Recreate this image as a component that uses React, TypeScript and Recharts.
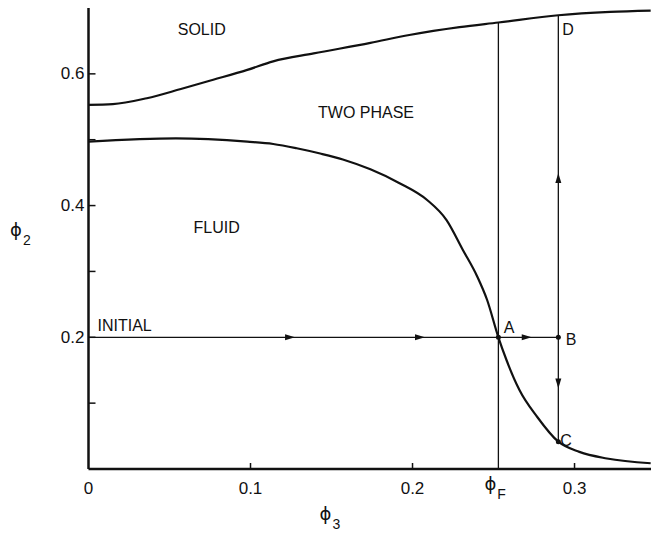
import React from 'react';
import {
    ComposedChart,
    Line,
    Scatter,
    XAxis,
    YAxis,
    ReferenceLine
} from 'recharts';

// phase boundary: solid / two phase
const SOLID_PHI3 = [0, 0.015, 0.036, 0.057, 0.077, 0.098, 0.114, 0.139, 0.174, 0.198, 0.229, 0.253, 0.29, 0.322, 0.347];
const SOLID_PHI2 = [0.553, 0.554, 0.563, 0.577, 0.591, 0.606, 0.619, 0.631, 0.647, 0.659, 0.671, 0.678, 0.689, 0.694, 0.696];

// phase boundary: fluid / two phase
const FLUID_PHI3 = [0, 0.054, 0.098, 0.114, 0.1285, 0.143, 0.157, 0.174, 0.192, 0.209, 0.221, 0.231, 0.24, 0.246, 0.253, 0.258, 0.266, 0.277, 0.29, 0.303, 0.32, 0.347];
const FLUID_PHI2 = [0.497, 0.502, 0.497, 0.4935, 0.487, 0.479, 0.47, 0.455, 0.434, 0.4085, 0.378, 0.333, 0.292, 0.257, 0.2, 0.1655, 0.12, 0.079, 0.0415, 0.026, 0.016, 0.0087];

// path of the process
const PHI_F = 0.253;
const PHI_B = 0.29;
const INITIAL_PHI2 = 0.2;
const PHI2_C = 0.0415;
const PHI2_D = 0.689;
const PHI2_TOP_F = 0.678;

const POINT_NAMES = ['A', 'B', 'C'];
const POINT_PHI3 = [PHI_F, PHI_B, PHI_B];
const POINT_PHI2 = [INITIAL_PHI2, INITIAL_PHI2, PHI2_C];

const ARROW_DIRS = ['right', 'right', 'right', 'up', 'down'];
const ARROW_PHI3 = [0.1244, 0.2046, 0.2705, PHI_B, PHI_B];
const ARROW_PHI2 = [0.2, 0.2, 0.2, 0.442, 0.13];

// text in the plot
const NOTE_TEXT = ['SOLID', 'TWO PHASE', 'FLUID', 'INITIAL', 'A', 'B', 'C', 'D'];
const NOTE_PHI3 = [0.0699, 0.1713, 0.0791, 0.0223, 0.2596, 0.2978, 0.2948, 0.296];
const NOTE_PHI2 = [0.668, 0.5406, 0.367, 0.2176, 0.2156, 0.196, 0.044, 0.6667];

// axes
const X_TICKS = [0, 0.1, 0.2, PHI_F, 0.3];
const X_TICK_LABELS = ['0', '0.1', '0.2', 'F', '0.3'];
const Y_TICKS = [0.1, 0.2, 0.3, 0.4, 0.5, 0.6];
const Y_TICK_LABELS = ['', '0.2', '', '0.4', '', '0.6'];

const FONT = '"Liberation Sans", Arial, sans-serif';
const PHI_FONT = '"DejaVu Sans", sans-serif';
const INK = '#111';

const solidData = SOLID_PHI3.map((x, i) => ({ x, y: SOLID_PHI2[i] }));
const fluidData = FLUID_PHI3.map((x, i) => ({ x, y: FLUID_PHI2[i] }));
const pointData = POINT_NAMES.map((name, i) => ({ name, x: POINT_PHI3[i], y: POINT_PHI2[i] }));
const arrowData = ARROW_DIRS.map((dir, i) => ({ dir, x: ARROW_PHI3[i], y: ARROW_PHI2[i] }));
const noteData = NOTE_TEXT.map((text, i) => ({ text, x: NOTE_PHI3[i], y: NOTE_PHI2[i] }));

// ϕ with a subscript, as one text
const PhiSub = ({ x, y, sub }: { x: number; y: number; sub: string }) => (
    <text x={x} y={y} fill={INK} fontFamily={PHI_FONT} fontSize={18}>
        <tspan>ϕ</tspan>
        <tspan dx={1} dy={9} fontFamily={FONT} fontSize={14}>{sub}</tspan>
    </text>
);

const YTick = ({ x, y, payload }: any) => {
    const label = Y_TICK_LABELS[Y_TICKS.indexOf(payload.value)];
    return (
        <g>
            <line x1={x} x2={x + 7} y1={y} y2={y} stroke={INK} strokeWidth={1.5} />
            {label && (
                <text x={x - 4} y={y} textAnchor="end" dominantBaseline="central"
                    fontFamily={FONT} fontSize={17} fill={INK}>{label}</text>
            )}
        </g>
    );
};

const XTick = ({ x, y, payload }: any) => {
    const idx = X_TICKS.indexOf(payload.value);
    if (payload.value === PHI_F) {
        return <PhiSub x={x - 14} y={y + 21} sub={X_TICK_LABELS[idx]} />;
    }
    return (
        <g>
            {payload.value > 0 && <line x1={x} x2={x} y1={y} y2={y - 6} stroke={INK} strokeWidth={1.5} />}
            <text x={x} y={y + 25} textAnchor="middle" fontFamily={FONT} fontSize={17} fill={INK}>
                {X_TICK_LABELS[idx]}
            </text>
        </g>
    );
};

const Arrow = ({ cx, cy, payload }: any) => {
    const d = payload.dir;
    let pts = '';
    if (d === 'right') pts = `${cx + 5},${cy} ${cx - 5},${cy - 3} ${cx - 5},${cy + 3}`;
    if (d === 'up') pts = `${cx},${cy - 5} ${cx - 3},${cy + 5} ${cx + 3},${cy + 5}`;
    if (d === 'down') pts = `${cx},${cy + 5} ${cx - 3},${cy - 5} ${cx + 3},${cy - 5}`;
    return <polygon points={pts} fill={INK} />;
};

const Note = ({ cx, cy, payload }: any) => (
    <text x={cx} y={cy} textAnchor="middle" dominantBaseline="central"
        fontFamily={FONT} fontSize={16} fill={INK}>{payload.text}</text>
);

const Dot = ({ cx, cy }: any) => <circle cx={cx} cy={cy} r={2.5} fill={INK} />;

const YLabel = ({ viewBox }: any) => <PhiSub x={viewBox.x + 10} y={viewBox.y + 228} sub="2" />;

const XLabel = ({ viewBox }: any) => <PhiSub x={viewBox.x + 231} y={viewBox.y + 51} sub="3" />;

export default function App() {
    return (
        <div style={{ position: 'absolute', left: 0, top: 0, width: 651, height: 533, background: '#fff' }}>
            <ComposedChart width={651} height={533} margin={{ top: 8, right: 0, bottom: 0, left: 0 }}>
                <XAxis
                    type="number"
                    dataKey="x"
                    domain={[0, 0.3472]}
                    allowDataOverflow
                    ticks={X_TICKS}
                    interval={0}
                    height={64}
                    tickSize={0}
                    tickMargin={0}
                    tickLine={false}
                    tick={<XTick />}
                    axisLine={{ stroke: INK, strokeWidth: 2.5 }}
                    label={{ content: <XLabel /> }}
                />
                <YAxis
                    type="number"
                    dataKey="y"
                    domain={[0, 0.7]}
                    allowDataOverflow
                    ticks={Y_TICKS}
                    interval={0}
                    width={88.5}
                    tickSize={0}
                    tickMargin={0}
                    tickLine={false}
                    tick={<YTick />}
                    axisLine={{ stroke: INK, strokeWidth: 2.5 }}
                    label={{ content: <YLabel /> }}
                />

                {/* process path */}
                <ReferenceLine segment={[{ x: 0, y: INITIAL_PHI2 }, { x: PHI_B, y: INITIAL_PHI2 }]} stroke={INK} strokeWidth={1.3} />
                <ReferenceLine segment={[{ x: PHI_F, y: 0 }, { x: PHI_F, y: PHI2_TOP_F }]} stroke={INK} strokeWidth={1.3} />
                <ReferenceLine segment={[{ x: PHI_B, y: PHI2_C }, { x: PHI_B, y: PHI2_D }]} stroke={INK} strokeWidth={1.3} />

                {/* phase boundaries */}
                <Line data={solidData} dataKey="y" type="monotone" stroke={INK} strokeWidth={2.2} dot={false} isAnimationActive={false} />
                <Line data={fluidData} dataKey="y" type="monotone" stroke={INK} strokeWidth={2.2} dot={false} isAnimationActive={false} />

                <Scatter data={arrowData} dataKey="y" shape={<Arrow />} isAnimationActive={false} />
                <Scatter data={pointData} dataKey="y" shape={<Dot />} isAnimationActive={false} />
                <Scatter data={noteData} dataKey="y" shape={<Note />} isAnimationActive={false} />
            </ComposedChart>
        </div>
    );
}
